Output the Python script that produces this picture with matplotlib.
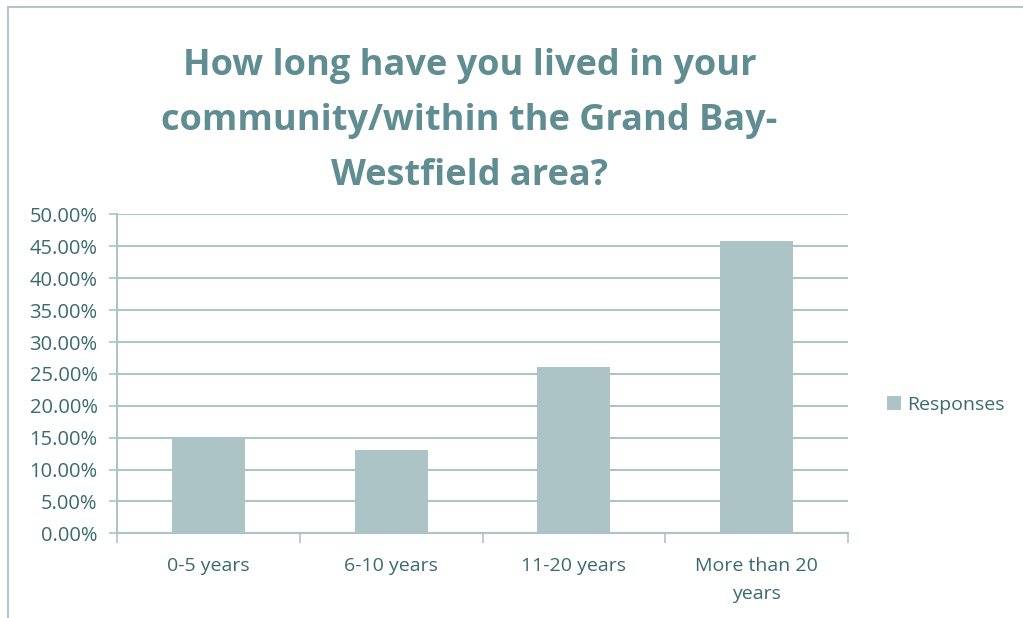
import matplotlib.pyplot as plt
from matplotlib.patches import Rectangle
from matplotlib.ticker import MultipleLocator, FuncFormatter

categories = ['0-5 years', '6-10 years', '11-20 years', 'More than 20\nyears']
responses = [15.0, 13.0, 26.1, 45.9]
series_name = 'Responses'
title_lines = ['How long have you lived in your',
               'community/within the Grand Bay-',
               'Westfield area?']

bar_color = '#adc4c7'
grid_color = '#aec3c6'
text_color = '#3a6a70'
title_color = '#5f8d91'

plt.rcParams['font.family'] = ['Open Sans', 'DejaVu Sans']

fig = plt.figure(figsize=(10.23, 6.18), dpi=100)
ax = fig.add_axes([0.1144, 0.137, 0.7146, 0.516])

# chart frame (only top and left edges are visible)
fig.patches.append(Rectangle((8 / 1023, -0.1), 1.2, 1 - 7 / 618 + 0.1,
                             transform=fig.transFigure, fill=False,
                             edgecolor='#b3c7ca', linewidth=1.5))

x = list(range(len(categories)))
ax.bar(x, responses, width=0.4, color=bar_color, label=series_name, zorder=3)

ax.set_xlim(-0.5, len(categories) - 0.5)
ax.set_ylim(0, 50)
ax.yaxis.set_major_locator(MultipleLocator(5))
ax.yaxis.set_major_formatter(FuncFormatter(lambda v, _: f'{v:.2f}%'))
ax.grid(axis='y', color=grid_color, linewidth=1.5, zorder=0)

# category boundaries carry the tick marks, labels sit on the centres
ax.set_xticks([i - 0.5 for i in range(len(categories) + 1)])
ax.set_xticklabels([])
ax.set_xticks(x, minor=True)
ax.set_xticklabels(categories, minor=True, linespacing=1.75)
ax.tick_params(axis='x', which='major', length=7, width=1.2, color=grid_color, direction='out')
ax.tick_params(axis='x', which='minor', length=0, pad=17, labelsize=14, labelcolor=text_color)
ax.tick_params(axis='y', length=6, width=1.2, color=grid_color, labelsize=14.5,
               labelcolor=text_color, pad=8)

for side in ('top', 'right'):
    ax.spines[side].set_visible(False)
for side in ('left', 'bottom'):
    ax.spines[side].set_color(grid_color)
    ax.spines[side].set_linewidth(1.5)

for i, line in enumerate(title_lines):
    fig.text(0.459, 0.8786 - i * 0.089, line, ha='center', va='baseline', fontsize=26,
             fontweight='bold', color=title_color)

leg = fig.legend(loc='center left', bbox_to_anchor=(0.850, 0.345), frameon=False,
                 fontsize=14, handlelength=0.7, handleheight=0.7, handletextpad=0.35)
for t in leg.get_texts():
    t.set_color(text_color)

fig.savefig('out.png', dpi=100)
